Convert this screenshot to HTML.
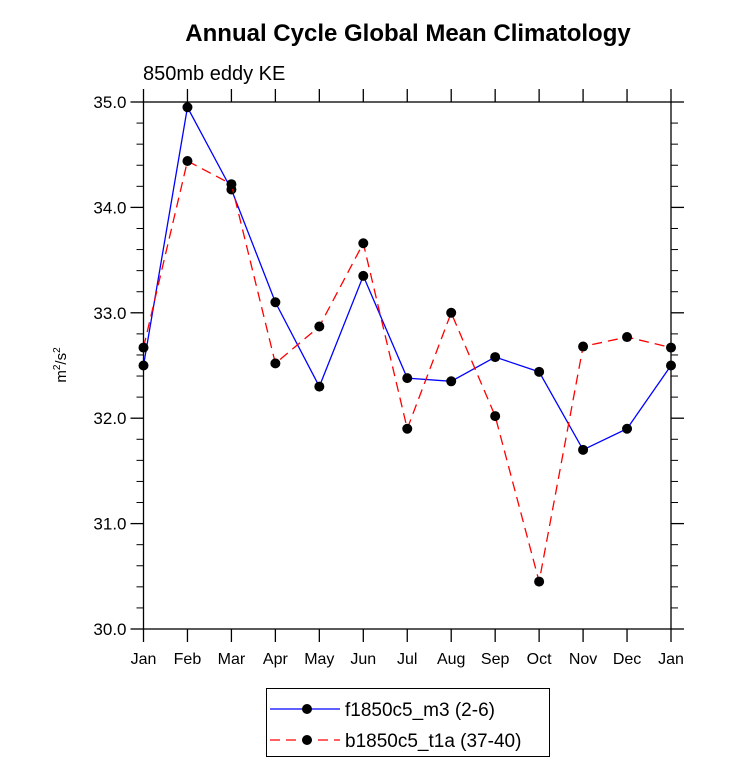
<!DOCTYPE html>
<html><head><meta charset="utf-8"><style>body{margin:0;background:#fff}svg{display:block;font-family:"Liberation Sans",sans-serif}</style></head>
<body>
<svg id="c" width="733" height="782">
<text x="408" y="41" text-anchor="middle" font-size="24" font-weight="bold">Annual Cycle Global Mean Climatology</text>
<text x="143" y="80" font-size="20">850mb eddy KE</text>
<text transform="translate(66,365) rotate(-90)" text-anchor="middle" font-size="15">m<tspan dy="-6" font-size="10">2</tspan><tspan dy="6">/s</tspan><tspan dy="-6" font-size="10">2</tspan></text>
<g id="axes"></g><g id="series"></g>
<g>
<rect x="266.5" y="688.5" width="283" height="68" fill="none" stroke="#000" stroke-width="1"/>
<line x1="270" y1="709" x2="340" y2="709" stroke="#00f" stroke-width="1.3"/><circle cx="307" cy="709" r="5" fill="#000"/>
<text x="345" y="716" font-size="19">f1850c5_m3 (2-6)</text>
<line x1="270" y1="740" x2="340" y2="740" stroke="#f00" stroke-width="1.3" stroke-dasharray="10,6"/><circle cx="307" cy="740" r="5" fill="#000"/>
<text x="345" y="747" font-size="19">b1850c5_t1a (37-40)</text>
</g>
</svg>
<script>
const months=["Jan","Feb","Mar","Apr","May","Jun","Jul","Aug","Sep","Oct","Nov","Dec","Jan"];
const blue=[32.50,34.95,34.17,33.10,32.30,33.35,32.38,32.35,32.58,32.44,31.70,31.90,32.50];
const red=[32.67,34.44,34.22,32.52,32.87,33.66,31.90,33.00,32.02,30.45,32.68,32.77,32.67];
const yTicks=["30.0","31.0","32.0","33.0","34.0","35.0"];
const L=143.5,T=102,B=629,step=(671-143.5)/12,R=L+12*step;
const x=i=>L+i*step, y=v=>B-(v-30)/5*(B-T);
const NS="http://www.w3.org/2000/svg";
function mk(p,t,a){const e=document.createElementNS(NS,t);for(const k in a)e.setAttribute(k,a[k]);p.appendChild(e);return e;}
const ax=document.getElementById('axes'),se=document.getElementById('series');
const fr=mk(ax,'rect',{x:L,y:T,width:R-L,height:B-T,fill:'none',stroke:'#000','stroke-width':1.3});


months.forEach((m,i)=>{const xx=x(i);
mk(ax,'line',{x1:xx,y1:B,x2:xx,y2:B+13,stroke:'#000','stroke-width':1.3});
mk(ax,'line',{x1:xx,y1:T,x2:xx,y2:T-13,stroke:'#000','stroke-width':1.3});
const t=mk(ax,'text',{x:xx,y:B+35,'text-anchor':'middle','font-size':16});t.textContent=m;

});
for(let k=0;k<=25;k++){const v=30+k*0.2,yy=y(v);if(k%5==0)continue;
mk(ax,'line',{x1:L,y1:yy,x2:L-7,y2:yy,stroke:'#000','stroke-width':1});
mk(ax,'line',{x1:R,y1:yy,x2:R+7,y2:yy,stroke:'#000','stroke-width':1});}
yTicks.forEach(s=>{const yy=y(parseFloat(s));
mk(ax,'line',{x1:L-13,y1:yy,x2:L,y2:yy,stroke:'#000','stroke-width':1.3});
mk(ax,'line',{x1:R,y1:yy,x2:R+13,y2:yy,stroke:'#000','stroke-width':1.3});
const t=mk(ax,'text',{x:L-17,y:yy+6,'text-anchor':'end','font-size':17});t.textContent=s;

});
function draw(d,c,dash,n){const p=mk(se,'polyline',{points:d.map((v,i)=>x(i)+','+y(v)).join(' '),fill:'none',stroke:c,'stroke-width':1.3,'stroke-dasharray':dash});


d.forEach((v,i)=>{const c2=mk(se,'circle',{cx:x(i),cy:y(v),r:5,fill:'#000'});

});}
draw(blue,'#00f','none','f1850c5');
draw(red,'#f00','10,6','b1850c5');
</script>
</body></html>
